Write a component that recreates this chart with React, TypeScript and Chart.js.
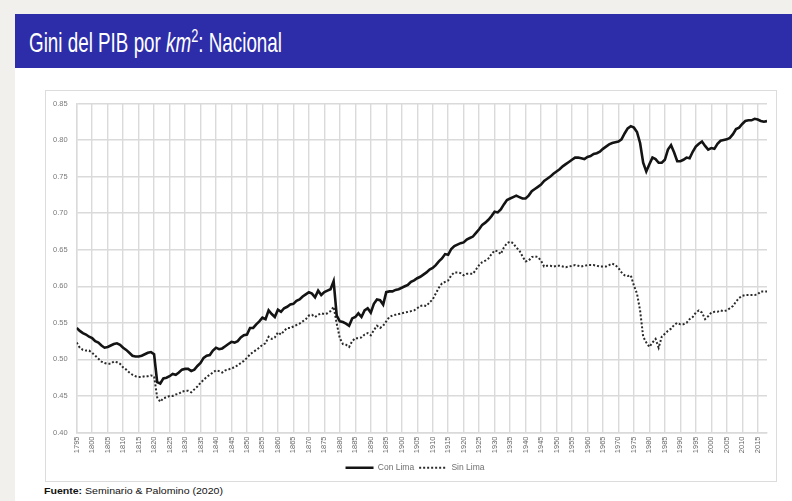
import React, { useEffect, useRef } from "react";
import { Chart, registerables } from "chart.js";

Chart.register(...registerables);

const FIRST_YEAR = 1795;
const LAST_YEAR = 2018;

// Gini "Con Lima", one value per year 1795..2018
const conLima = [
  0.543, 0.539, 0.536, 0.534, 0.531, 0.529, 0.525, 0.523, 0.519, 0.516,
  0.517, 0.519, 0.521, 0.522, 0.520, 0.516, 0.513, 0.509, 0.505, 0.504,
  0.504, 0.505, 0.507, 0.509, 0.510, 0.507, 0.469, 0.467, 0.474, 0.475,
  0.477, 0.480, 0.479, 0.482, 0.486, 0.487, 0.487, 0.484, 0.486, 0.491,
  0.495, 0.502, 0.505, 0.506, 0.512, 0.516, 0.514, 0.515, 0.518, 0.521,
  0.524, 0.523, 0.525, 0.530, 0.533, 0.534, 0.543, 0.543, 0.548, 0.552,
  0.557, 0.555, 0.567, 0.562, 0.558, 0.568, 0.565, 0.570, 0.572, 0.575,
  0.576, 0.580, 0.582, 0.586, 0.589, 0.592, 0.590, 0.585, 0.594, 0.588,
  0.592, 0.594, 0.596, 0.607, 0.560, 0.552, 0.551, 0.549, 0.546, 0.556,
  0.558, 0.563, 0.558, 0.567, 0.570, 0.564, 0.576, 0.582, 0.581, 0.575,
  0.592, 0.593, 0.593, 0.595, 0.596, 0.598, 0.600, 0.602, 0.606, 0.608,
  0.611, 0.613, 0.616, 0.619, 0.623, 0.625, 0.629, 0.634, 0.638, 0.644,
  0.643, 0.651, 0.655, 0.657, 0.659, 0.660, 0.664, 0.666, 0.668, 0.673,
  0.678, 0.684, 0.687, 0.691, 0.696, 0.702, 0.701, 0.705, 0.712, 0.718,
  0.720, 0.722, 0.724, 0.722, 0.720, 0.720, 0.724, 0.730, 0.733, 0.736,
  0.739, 0.744, 0.747, 0.750, 0.754, 0.757, 0.760, 0.764, 0.767, 0.770,
  0.773, 0.776, 0.776, 0.775, 0.774, 0.777, 0.778, 0.781, 0.782, 0.784,
  0.788, 0.791, 0.794, 0.796, 0.797, 0.798, 0.801, 0.809, 0.816, 0.819,
  0.817, 0.811, 0.796, 0.769, 0.757, 0.767, 0.776, 0.774, 0.769, 0.769,
  0.773, 0.787, 0.793, 0.783, 0.771, 0.771, 0.773, 0.776, 0.775, 0.784,
  0.791, 0.795, 0.798, 0.792, 0.787, 0.789, 0.788, 0.795, 0.799, 0.800,
  0.801, 0.803, 0.808, 0.815, 0.817, 0.822, 0.826, 0.827, 0.827, 0.829,
  0.828, 0.826, 0.825, 0.826,
];

// Gini "Sin Lima", one value per year 1795..2018
const sinLima = [
  0.523, 0.516, 0.513, 0.512, 0.512, 0.509, 0.505, 0.501, 0.497, 0.495,
  0.494, 0.494, 0.497, 0.496, 0.494, 0.489, 0.486, 0.482, 0.479, 0.477,
  0.476, 0.476, 0.477, 0.477, 0.478, 0.477, 0.448, 0.442, 0.447, 0.448,
  0.450, 0.450, 0.452, 0.453, 0.456, 0.457, 0.457, 0.455, 0.459, 0.463,
  0.468, 0.472, 0.476, 0.479, 0.482, 0.485, 0.484, 0.482, 0.485, 0.486,
  0.488, 0.489, 0.492, 0.495, 0.498, 0.502, 0.507, 0.510, 0.513, 0.516,
  0.520, 0.522, 0.531, 0.528, 0.530, 0.537, 0.534, 0.539, 0.543, 0.543,
  0.545, 0.547, 0.549, 0.552, 0.555, 0.560, 0.561, 0.558, 0.561, 0.563,
  0.562, 0.563, 0.566, 0.572, 0.549, 0.529, 0.521, 0.520, 0.517, 0.525,
  0.529, 0.529, 0.530, 0.534, 0.536, 0.533, 0.540, 0.546, 0.543, 0.546,
  0.552, 0.558, 0.560, 0.561, 0.562, 0.563, 0.564, 0.565, 0.566, 0.567,
  0.570, 0.573, 0.574, 0.573, 0.578, 0.582, 0.590, 0.598, 0.604, 0.606,
  0.608, 0.615, 0.619, 0.619, 0.618, 0.615, 0.617, 0.617, 0.617, 0.623,
  0.629, 0.633, 0.635, 0.638, 0.644, 0.649, 0.648, 0.644, 0.653, 0.659,
  0.661, 0.659, 0.653, 0.649, 0.641, 0.634, 0.635, 0.640, 0.641, 0.640,
  0.635, 0.627, 0.628, 0.628, 0.627, 0.628, 0.628, 0.627, 0.626, 0.627,
  0.628, 0.629, 0.628, 0.627, 0.628, 0.629, 0.629, 0.629, 0.628, 0.627,
  0.627, 0.627, 0.629, 0.631, 0.629, 0.625, 0.619, 0.615, 0.614, 0.615,
  0.601, 0.590, 0.567, 0.531, 0.523, 0.517, 0.523, 0.528, 0.516, 0.531,
  0.535, 0.539, 0.542, 0.547, 0.550, 0.548, 0.548, 0.550, 0.555, 0.558,
  0.564, 0.567, 0.564, 0.555, 0.559, 0.564, 0.565, 0.565, 0.567, 0.566,
  0.567, 0.570, 0.573, 0.579, 0.584, 0.587, 0.588, 0.588, 0.588, 0.588,
  0.589, 0.593, 0.593, 0.593,
];

const xTickYears = [
  1795, 1800, 1805, 1810, 1815, 1820, 1825, 1830, 1835, 1840, 1845, 1850,
  1855, 1860, 1865, 1870, 1875, 1880, 1885, 1890, 1895, 1900, 1905, 1910,
  1915, 1920, 1925, 1930, 1935, 1940, 1945, 1950, 1955, 1960, 1965, 1970,
  1975, 1980, 1985, 1990, 1995, 2000, 2005, 2010, 2015,
];

const yTicks = [0.4, 0.45, 0.5, 0.55, 0.6, 0.65, 0.7, 0.75, 0.8, 0.85];

const seriesNames = ["Con Lima", "Sin Lima"];
const seriesWidths = [2.6, 2];
const seriesDashes: number[][] = [[], [2, 2]];
const seriesColors = ["#141414", "#2a2a2a"];

const TICK_FONT = "'Liberation Sans', Arial, sans-serif";
const GRID = "#dadada";

const legendShift = {
  id: "legendShift",
  afterLayout(chart: any) {
    if (chart.legend) chart.legend.left += 18;
  },
};

export default function App() {
  const canvasRef = useRef<HTMLCanvasElement>(null);
  const titleRef = useRef<HTMLSpanElement>(null);
  const footRef = useRef<HTMLSpanElement>(null);

  useEffect(() => {
    const fit = (el: HTMLElement | null, target: number) => {
      if (!el) return;
      el.style.transform = "none";
      const w = el.getBoundingClientRect().width;
      el.style.transform = `scaleX(${target / w})`;
    };
    fit(titleRef.current, 253);
    fit(footRef.current, 179);

    const toPoints = (vals: number[]) =>
      vals.map((v, i) => ({ x: FIRST_YEAR + i, y: v }));

    const defaultLabels = (Chart as any).defaults.plugins.legend.labels.generateLabels;

    const chart = new Chart(canvasRef.current as HTMLCanvasElement, {
      type: "line",
      data: {
        datasets: [conLima, sinLima].map((vals, i) => ({
          label: seriesNames[i],
          data: toPoints(vals),
          borderColor: seriesColors[i],
          backgroundColor: seriesColors[i],
          borderWidth: seriesWidths[i],
          borderDash: seriesDashes[i],
          pointRadius: 0,
          pointStyle: "line",
          tension: 0,
        })),
      },
      plugins: [legendShift],
      options: {
        responsive: false,
        maintainAspectRatio: false,
        animation: false,
        events: [],
        layout: { padding: { left: 0, right: 10, top: 10, bottom: 0 } },
        plugins: {
          tooltip: { enabled: false },
          legend: {
            position: "bottom",
            labels: {
              usePointStyle: true,
              pointStyleWidth: 28,
              boxHeight: 7,
              padding: 5,
              color: "#6f6f6f",
              font: { family: TICK_FONT, size: 8.5 },
              generateLabels: (c: any) =>
                defaultLabels(c).map((it: any, i: number) => ({
                  ...it,
                  lineWidth: seriesWidths[i],
                  lineDash: seriesDashes[i],
                  strokeStyle: seriesColors[i],
                  lineCap: "butt",
                })),
            },
          },
        },
        scales: {
          x: {
            type: "linear",
            min: FIRST_YEAR,
            max: LAST_YEAR,
            afterBuildTicks: (s: any) => {
              s.ticks = xTickYears.map((v) => ({ value: v }));
            },
            afterFit: (s: any) => {
              s.height = 26;
            },
            grid: { color: GRID, lineWidth: 1.4, drawTicks: false },
            border: { color: GRID, width: 1.4 },
            ticks: {
              autoSkip: false,
              minRotation: 90,
              maxRotation: 90,
              padding: 4,
              color: "#666",
              font: { family: TICK_FONT, size: 7.5 },
              callback: (v: any) => String(v),
            },
          },
          y: {
            min: 0.4,
            max: 0.85,
            afterBuildTicks: (s: any) => {
              s.ticks = yTicks.map((v) => ({ value: v }));
            },
            afterFit: (s: any) => {
              s.width = 31.7;
            },
            grid: { color: GRID, lineWidth: 1.4, drawTicks: false },
            border: { color: GRID, width: 1.4 },
            ticks: {
              padding: 9,
              color: "#7a7a7a",
              font: { family: TICK_FONT, size: 7.5 },
              callback: (v: any) => Number(v).toFixed(2),
            },
          },
        },
      },
    } as any);
    return () => chart.destroy();
  }, []);

  return (
    <div
      style={{
        position: "absolute",
        left: 0,
        top: 0,
        width: 792,
        height: 501,
        background: "#f2f0ed",
        overflow: "hidden",
      }}
    >
      <div
        style={{
          position: "absolute",
          left: 15,
          top: 14,
          right: 0,
          bottom: 0,
          background: "#ffffff",
        }}
      />
      <div
        style={{
          position: "absolute",
          left: 15,
          top: 14,
          right: 0,
          height: 54,
          background: "#2d2da9",
        }}
      />
      <span
        ref={titleRef}
        style={{
          position: "absolute",
          left: 29,
          top: 29,
          fontFamily: "'Liberation Sans', Arial, sans-serif",
          fontSize: 28,
          lineHeight: "28px",
          color: "#ffffff",
          whiteSpace: "nowrap",
          transformOrigin: "0 0",
        }}
      >
        Gini del PIB por <i>km</i>
        <sup style={{ fontSize: "0.68em", lineHeight: 0, verticalAlign: "0.5em" }}>2</sup>
        : Nacional
      </span>
      <div
        style={{
          position: "absolute",
          left: 45,
          top: 90,
          width: 732,
          height: 392,
          border: "1px solid #dcdcdc",
          boxSizing: "border-box",
        }}
      />
      <canvas
        ref={canvasRef}
        width={732}
        height={392}
        style={{ position: "absolute", left: 45, top: 90, width: 732, height: 392 }}
      />
      <span
        ref={footRef}
        style={{
          position: "absolute",
          left: 44,
          top: 486,
          fontFamily: "'Liberation Sans', Arial, sans-serif",
          fontSize: 9.5,
          lineHeight: "9.5px",
          color: "#111",
          whiteSpace: "nowrap",
          transformOrigin: "0 0",
        }}
      >
        <b>Fuente:</b> Seminario &amp; Palomino (2020)
      </span>
    </div>
  );
}
